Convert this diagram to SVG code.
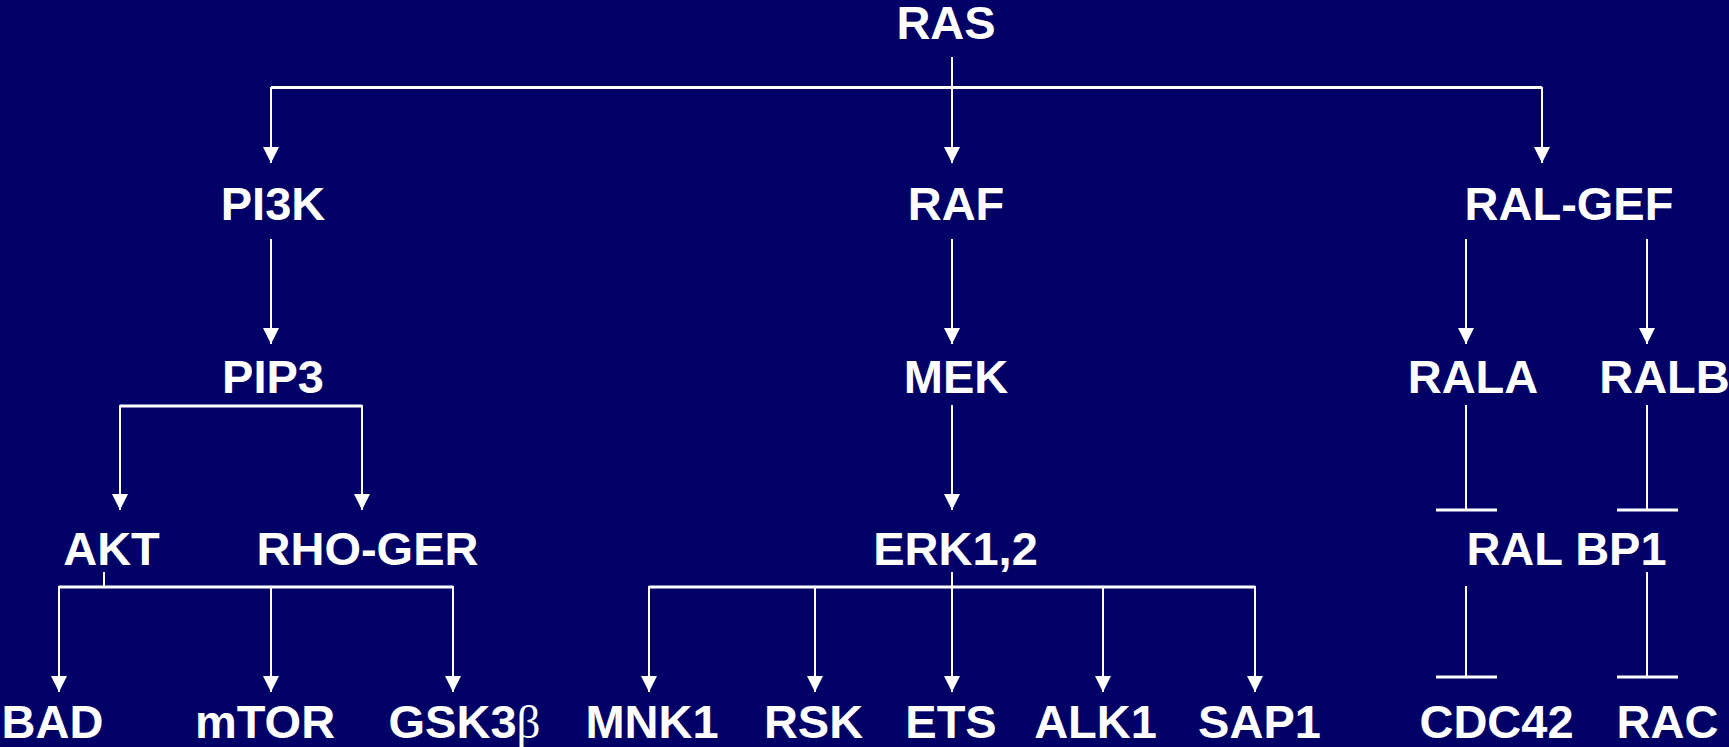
<svg xmlns="http://www.w3.org/2000/svg" width="1729" height="747" viewBox="0 0 1729 747">
<style>
.lbl{fill:#fff;font-family:"Liberation Sans",Arial,sans-serif;font-weight:bold;font-size:47px;text-anchor:middle}
.beta{font-family:"Liberation Serif","Times New Roman",serif;font-weight:normal}
.ln{stroke:#fff;stroke-width:2;fill:none}
.bar{stroke:#fff;stroke-width:3;fill:none}
.arr{marker-end:url(#ah)}
</style>
<defs>
<marker id="ah" markerUnits="userSpaceOnUse" viewBox="0 0 16 16" refX="16" refY="8" markerWidth="16" markerHeight="16" orient="auto">
<path d="M0,0 L16,8 L0,16 z" fill="#fff"/>
</marker>
</defs>
<rect width="1729" height="747" fill="#000066"/>
<g id="connectors">
<line class="ln arr" x1="952" y1="57" x2="952" y2="163"/>
<line class="bar" x1="271" y1="87.5" x2="1542" y2="87.5"/>
<line class="ln arr" x1="271" y1="87" x2="271" y2="163"/>
<line class="ln arr" x1="1542" y1="87" x2="1542" y2="163"/>
<line class="ln arr" x1="271" y1="239" x2="271" y2="344"/>
<line class="ln arr" x1="952" y1="239" x2="952" y2="344"/>
<line class="ln arr" x1="1466" y1="239" x2="1466" y2="344"/>
<line class="ln arr" x1="1647" y1="239" x2="1647" y2="344"/>
<line class="bar" x1="120" y1="406" x2="362" y2="406"/>
<line class="ln arr" x1="120" y1="405" x2="120" y2="510"/>
<line class="ln arr" x1="362" y1="405" x2="362" y2="510"/>
<line class="ln arr" x1="952" y1="405" x2="952" y2="510"/>
<line class="ln" x1="104" y1="572" x2="104" y2="587"/>
<line class="bar" x1="59" y1="587" x2="453" y2="587"/>
<line class="ln arr" x1="59" y1="586" x2="59" y2="692"/>
<line class="ln arr" x1="271" y1="586" x2="271" y2="692"/>
<line class="ln arr" x1="453" y1="586" x2="453" y2="692"/>
<line class="bar" x1="649" y1="587" x2="1255" y2="587"/>
<line class="ln arr" x1="952" y1="572" x2="952" y2="692"/>
<line class="ln arr" x1="649" y1="586" x2="649" y2="692"/>
<line class="ln arr" x1="815" y1="586" x2="815" y2="692"/>
<line class="ln arr" x1="1103" y1="586" x2="1103" y2="692"/>
<line class="ln arr" x1="1255" y1="586" x2="1255" y2="692"/>
<line class="ln" x1="1466" y1="405" x2="1466" y2="510"/>
<line class="bar" x1="1436" y1="510" x2="1497" y2="510"/>
<line class="ln" x1="1647" y1="405" x2="1647" y2="510"/>
<line class="bar" x1="1617" y1="510" x2="1678" y2="510"/>
<line class="ln" x1="1466" y1="586" x2="1466" y2="677"/>
<line class="bar" x1="1436" y1="677" x2="1497" y2="677"/>
<line class="ln" x1="1647" y1="572" x2="1647" y2="677"/>
<line class="bar" x1="1617" y1="677" x2="1678" y2="677"/>
</g>
<g id="n-ras"><text class="lbl" x="946" y="39">RAS</text></g>
<g id="n-pi3k"><text class="lbl" x="273" y="219.5">PI3K</text></g>
<g id="n-raf"><text class="lbl" x="956" y="219.5">RAF</text></g>
<g id="n-ralgef"><text class="lbl" x="1569" y="219.5">RAL-GEF</text></g>
<g id="n-pip3"><text class="lbl" x="273" y="392.5">PIP3</text></g>
<g id="n-mek"><text class="lbl" x="956" y="392.5">MEK</text></g>
<g id="n-rala"><text class="lbl" x="1473" y="392.5">RALA</text></g>
<g id="n-ralb"><text class="lbl" x="1664.5" y="392.5">RALB</text></g>
<g id="n-akt"><text class="lbl" x="111.5" y="565">AKT</text></g>
<g id="n-rhoger"><text class="lbl" x="367.5" y="565">RHO-GER</text></g>
<g id="n-erk"><text class="lbl" x="955.5" y="565">ERK1,2</text></g>
<g id="n-ralbp1"><text class="lbl" x="1566.5" y="565">RAL BP1</text></g>
<g id="n-bad"><text class="lbl" x="52.5" y="738">BAD</text></g>
<g id="n-mtor"><text class="lbl" x="265" y="738">mTOR</text></g>
<g id="n-gsk3b"><text class="lbl" x="464.5" y="738">GSK3<tspan class="beta">β</tspan></text></g>
<g id="n-mnk1"><text class="lbl" x="652" y="738">MNK1</text></g>
<g id="n-rsk"><text class="lbl" x="813.5" y="738">RSK</text></g>
<g id="n-ets"><text class="lbl" x="951" y="738">ETS</text></g>
<g id="n-alk1"><text class="lbl" x="1095.5" y="738">ALK1</text></g>
<g id="n-sap1"><text class="lbl" x="1259.5" y="738">SAP1</text></g>
<g id="n-cdc42"><text class="lbl" x="1496.5" y="738">CDC42</text></g>
<g id="n-rac"><text class="lbl" x="1667.5" y="738">RAC</text></g>
</svg>
